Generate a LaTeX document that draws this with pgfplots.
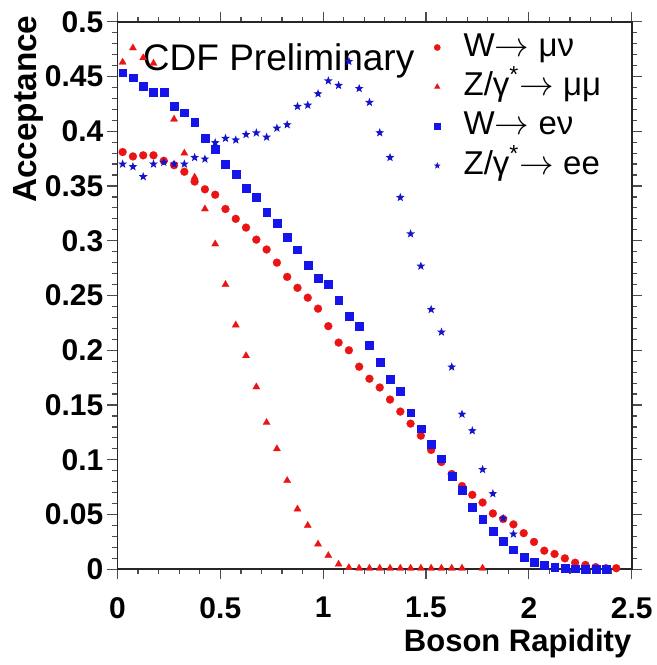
\documentclass[border=0pt]{standalone}
\usepackage{fontspec}
\setmainfont{Liberation Sans}
\usepackage{pgfplots}
\pgfplotsset{compat=1.18}

% filled five-point star
\pgfdeclareplotmark{fstar}{%
  \pgfpathmoveto{\pgfpointpolar{90}{\pgfplotmarksize}}%
  \pgfpathlineto{\pgfpointpolar{126}{0.42\pgfplotmarksize}}%
  \pgfpathlineto{\pgfpointpolar{162}{\pgfplotmarksize}}%
  \pgfpathlineto{\pgfpointpolar{198}{0.42\pgfplotmarksize}}%
  \pgfpathlineto{\pgfpointpolar{234}{\pgfplotmarksize}}%
  \pgfpathlineto{\pgfpointpolar{270}{0.42\pgfplotmarksize}}%
  \pgfpathlineto{\pgfpointpolar{306}{\pgfplotmarksize}}%
  \pgfpathlineto{\pgfpointpolar{342}{0.42\pgfplotmarksize}}%
  \pgfpathlineto{\pgfpointpolar{18}{\pgfplotmarksize}}%
  \pgfpathlineto{\pgfpointpolar{54}{0.42\pgfplotmarksize}}%
  \pgfpathclose
  \pgfusepathqfill
}

\pgfplotsset{
  mk/.style={only marks,
    legend image code/.code={\path (0pt,0pt) (13pt,0pt); \draw[##1] plot coordinates {(0pt,0pt)};}},
}

\definecolor{cdfred}{RGB}{235,20,20}
\definecolor{cdfblue}{RGB}{20,20,235}
\definecolor{stblue}{RGB}{20,20,200}

\newcommand{\arr}{$\rightarrow$}

\begin{document}
\begin{tikzpicture}
\begin{axis}[
  width=257.1pt, height=273.8pt, scale only axis,
  xmin=0, xmax=2.5, ymin=0, ymax=0.5,
  xtick distance=0.5, ytick distance=0.05,
  minor x tick num=4, minor y tick num=4,
  tick align=outside,
  major tick length=5pt, minor tick length=2.5pt,
  axis line style={line width=0.9pt, black!85},
  every tick/.style={black!70, line width=0.6pt},
  scaled ticks=false,
  /pgf/number format/assume math mode=true,
  /pgf/number format/fixed,
  /pgf/number format/precision=2,
  ticklabel style={font=\fontsize{15}{15}\selectfont\bfseries},
  yticklabel style={anchor=east, inner sep=0pt},
  xticklabel style={anchor=north, inner sep=0pt},
  yticklabel shift=1.9pt,
  xticklabel shift=8.7pt,
  clip=false,
  xlabel={Boson Rapidity},
  ylabel={Acceptance},
  xlabel style={at={(axis description cs:1,0)}, anchor=base east, inner sep=0pt,
    yshift=-41.2pt, font=\fontsize{15.5}{15.5}\selectfont\bfseries},
  ylabel style={at={(axis description cs:-0.1579,1.0122)}, anchor=base east, inner sep=0pt,
    font=\fontsize{16.7}{16.7}\selectfont\bfseries},
  legend style={at={(axis cs:1.538,0.4915)}, anchor=north west, draw=none, fill=none,
    inner sep=0pt, outer sep=0pt, row sep=3.2pt,
    font=\fontsize{16.5}{16.5}\selectfont,
    nodes={inner sep=0pt, text height=12.5pt, text depth=4pt}},
  legend cell align=left,
]
% W -> mu nu
\addplot[mk, mark=*, cdfred, mark size=2pt, mark options={draw=cdfred, fill=cdfred, line width=0.1pt},
  legend image post style={mark size=1.6pt}] coordinates {
(0.025,0.381) (0.075,0.377) (0.125,0.378) (0.175,0.378) (0.225,0.373)
(0.275,0.369) (0.325,0.363) (0.375,0.354) (0.425,0.347) (0.475,0.342)
(0.525,0.329) (0.575,0.320) (0.625,0.312) (0.675,0.301) (0.725,0.292)
(0.775,0.280) (0.825,0.267) (0.875,0.257) (0.925,0.248) (0.975,0.238)
(1.025,0.222) (1.075,0.207) (1.125,0.200) (1.175,0.185) (1.225,0.174)
(1.275,0.166) (1.325,0.155) (1.375,0.144) (1.425,0.133) (1.475,0.122)
(1.525,0.109) (1.575,0.098) (1.625,0.087) (1.675,0.076) (1.725,0.068)
(1.775,0.061) (1.825,0.051) (1.875,0.046) (1.925,0.041) (1.975,0.033)
(2.025,0.025) (2.075,0.017) (2.125,0.014) (2.175,0.010) (2.225,0.006)
(2.275,0.004) (2.325,0.002) (2.375,0.001) (2.425,0.001)
};
\addlegendentry{W\arr\ μν}
% Z -> mu mu
\addplot[mk, mark=triangle*, cdfred, mark size=2.1pt, mark options={draw=cdfred, fill=cdfred, line width=0.1pt},
  legend image post style={mark size=1.7pt}] coordinates {
(0.025,0.463) (0.075,0.476) (0.125,0.467) (0.175,0.462) (0.225,0.434)
(0.275,0.411) (0.325,0.380) (0.375,0.358) (0.425,0.329) (0.475,0.297)
(0.525,0.260) (0.575,0.223) (0.625,0.195) (0.675,0.1665) (0.725,0.134)
(0.775,0.110) (0.825,0.081) (0.875,0.055) (0.925,0.040) (0.975,0.023)
(1.025,0.0125) (1.075,0.0046) (1.125,0.0015) (1.175,0.001) (1.225,0.001)
(1.275,0.001) (1.325,0.001) (1.375,0.001) (1.425,0.001) (1.475,0.001)
(1.525,0.001) (1.575,0.001) (1.625,0.001) (1.675,0.001) (1.775,0.001)
};
\addlegendentry{Z/γ\textsuperscript{*}\arr\ μμ}
% W -> e nu
\addplot[mk, mark=square*, cdfblue, mark size=1.95pt, mark options={draw=cdfblue, fill=cdfblue, line width=0.1pt},
  legend image post style={mark size=1.6pt}] coordinates {
(0.025,0.4535) (0.075,0.449) (0.125,0.441) (0.175,0.436) (0.225,0.436)
(0.275,0.423) (0.325,0.417) (0.375,0.408) (0.425,0.394) (0.475,0.3835)
(0.525,0.370) (0.575,0.3605) (0.625,0.348) (0.675,0.340) (0.725,0.3264)
(0.775,0.316) (0.825,0.303) (0.875,0.292) (0.925,0.278) (0.975,0.266)
(1.025,0.2607) (1.075,0.2455) (1.125,0.231) (1.175,0.222) (1.225,0.205)
(1.275,0.189) (1.325,0.1734) (1.375,0.163) (1.425,0.143) (1.475,0.1285)
(1.525,0.1145) (1.575,0.101) (1.625,0.0848) (1.675,0.0723) (1.725,0.0565)
(1.775,0.046) (1.825,0.035) (1.875,0.026) (1.925,0.018) (1.975,0.0114)
(2.025,0.0064) (2.075,0.0042) (2.125,0.002) (2.175,0.0013) (2.225,0.0006)
(2.275,0.0005) (2.325,0.0005) (2.375,0.0005)
};
\addlegendentry{W\arr\ eν}
% Z -> e e
\addplot[mk, mark=fstar, stblue, mark size=2.3pt, mark options={draw=stblue, fill=stblue},
  legend image post style={mark size=1.8pt}] coordinates {
(0.025,0.370) (0.075,0.3676) (0.125,0.3585) (0.175,0.370) (0.225,0.3716)
(0.275,0.370) (0.325,0.370) (0.375,0.376) (0.425,0.3746) (0.475,0.3895)
(0.525,0.3935) (0.575,0.392) (0.625,0.397) (0.675,0.3985) (0.725,0.3946)
(0.775,0.4028) (0.825,0.4059) (0.875,0.4226) (0.925,0.4238) (0.975,0.4342)
(1.025,0.446) (1.075,0.4418) (1.125,0.4637) (1.175,0.439) (1.225,0.4263)
(1.275,0.3986) (1.325,0.376) (1.375,0.3395) (1.425,0.3063) (1.475,0.2768)
(1.525,0.2372) (1.575,0.2166) (1.625,0.1847) (1.675,0.1416) (1.725,0.1265)
(1.775,0.0911) (1.825,0.069) (1.875,0.0464) (1.925,0.0322)
};
\addlegendentry{Z/γ\textsuperscript{*}\arr\ ee}
\node[anchor=base west, inner sep=0pt, font=\fontsize{18.5}{18.5}\selectfont]
  at (axis cs:0.122,0.4559) {CDF Preliminary};
\end{axis}
\pgfresetboundingbox
\useasboundingbox (-58.75pt,-47.85pt) rectangle (269.75pt,284.65pt);
\end{tikzpicture}
\end{document}
